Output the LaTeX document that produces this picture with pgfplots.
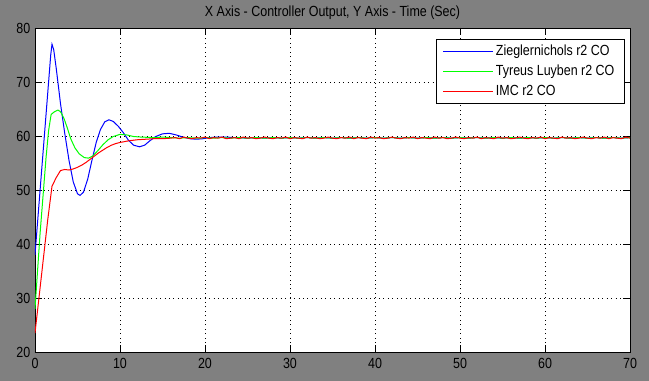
\documentclass[border=0pt]{standalone}
\usepackage{fontspec}
\setmainfont{Liberation Sans}[FakeStretch=0.85]
\usepackage{pgfplots}
\pgfplotsset{compat=1.18}
\usetikzlibrary{backgrounds,calc}
\definecolor{bg}{HTML}{808080}
\begin{document}
\begin{tikzpicture}
\begin{axis}[
  scale only axis, width=446.25pt, height=243pt,
  xmin=0, xmax=70, ymin=20, ymax=80,
  xtick={0,10,...,70}, ytick={20,30,...,80},
  axis background/.style={fill=white},
  axis line style={black, line width=0.6pt},
  tick align=inside, major tick length=5pt,
  tick style={black, line width=0.6pt},
  xtick pos=both, ytick pos=both,
  grid=major,
  major grid style={black, line width=0.6pt, dash pattern=on 0.75pt off 2.6pt},
  tick label style={font=\fontsize{11}{13}\selectfont},
  xticklabel style={yshift=-1pt},
  /pgf/number format/assume math mode=true,
  title={X Axis - Controller Output, Y Axis - Time (Sec)},
  title style={font=\fontsize{11}{13}\selectfont, yshift=-3.5pt},
  legend style={at={(0.99,0.966)}, anchor=north east, draw=black, fill=white,
    font=\fontsize{11}{13}\selectfont, row sep=1.4pt, inner xsep=5pt, inner ysep=2.5pt},
  legend cell align=left,
  legend image code/.code={\draw[#1] (0pt,0pt) -- (37pt,0pt);},
  every axis plot/.append style={line width=0.75pt},
  clip=true,
]
\addplot[color=blue, line width=0.75pt] coordinates {
(0,38) (0.3,44) (0.6,50) (1.0,58) (1.3,64) (1.6,70) (1.85,75) (2.0,77) (2.2,76) (2.5,72.5)
(3.0,66) (3.5,60.5) (4.0,55.5) (4.5,51.5) (5.0,49.3) (5.3,49) (5.7,49.6) (6.2,52) (6.7,55.5)
(7.2,58.8) (7.7,61.2) (8.2,62.6) (8.7,63.0) (9.2,62.7) (9.8,61.8) (10.4,60.6) (11.0,59.2)
(11.6,58.3) (12.3,58.0) (12.9,58.3) (13.5,59.1) (14.2,59.9) (15.0,60.4) (15.8,60.5) (16.6,60.2)
(17.4,59.8) (18.2,59.5) (19.0,59.4) (19.8,59.5) (20.5,59.7) (21.5,59.8) (22.5,59.8) (23.5,59.7)
(25,59.6) (26,59.7) (27,59.6) (28,59.7) (29,59.6) (30,59.7) (31,59.6) (32,59.7) (33,59.6)
(34,59.7) (35,59.6) (36,59.7) (37,59.6) (38,59.7) (39,59.6) (40,59.7) (41,59.6) (42,59.7)
(43,59.6) (44,59.7) (45,59.6) (46,59.7) (47,59.6) (48,59.7) (49,59.6) (50,59.7) (51,59.6)
(52,59.7) (53,59.6) (54,59.7) (55,59.6) (56,59.7) (57,59.6) (58,59.7) (59,59.6) (60,59.7)
(61,59.6) (62,59.7) (63,59.6) (64,59.7) (65,59.6) (66,59.7) (67,59.6) (68,59.7) (69,59.6) (70,59.7)
};
\addlegendentry{Zieglernichols r2 CO\hspace{12pt}}
\addplot[color=green, line width=0.75pt] coordinates {
(0,28) (0.3,35) (0.6,42) (1.0,50) (1.3,56) (1.6,61) (1.9,64) (2.3,64.5) (2.7,64.8) (3.0,64.5)
(3.4,63.3) (3.8,61.5) (4.2,59.5) (4.7,57.8) (5.2,56.7) (5.8,56.0) (6.3,55.9) (6.8,56.3) (7.4,57.3)
(8.0,58.4) (8.6,59.3) (9.2,59.9) (10.0,60.3) (10.8,60.2) (11.6,59.9) (12.5,59.8) (14,59.7)
(15,59.8) (16,59.7) (17,59.6) (18,59.7) (19,59.6) (20,59.7) (21,59.6) (22,59.7) (23,59.6)
(24,59.7) (25,59.6) (26,59.7) (27,59.6) (28,59.7) (29,59.6) (30,59.7) (31,59.6) (32,59.7)
(33,59.6) (34,59.7) (35,59.6) (36,59.7) (37,59.6) (38,59.7) (39,59.6) (40,59.7) (41,59.6)
(42,59.7) (43,59.6) (44,59.7) (45,59.6) (46,59.7) (47,59.6) (48,59.7) (49,59.6) (50,59.7)
(51,59.6) (52,59.7) (53,59.6) (54,59.7) (55,59.6) (56,59.7) (57,59.6) (58,59.7) (59,59.6)
(60,59.7) (61,59.6) (62,59.7) (63,59.6) (64,59.7) (65,59.6) (66,59.7) (67,59.6) (68,59.7) (69,59.6) (70,59.7)
};
\addlegendentry{Tyreus Luyben r2 CO}
\addplot[color=red, line width=0.75pt] coordinates {
(0,23.5) (0.5,30.5) (1.0,37.5) (1.5,44.5) (2.0,50.7) (2.5,52.3) (3.0,53.6) (3.5,53.8) (4.0,53.7)
(4.5,53.9) (5.0,54.2) (5.5,54.6) (6.0,55.1) (6.5,55.7) (7.0,56.3) (7.5,56.9) (8.0,57.4) (8.5,57.9)
(9.0,58.3) (9.5,58.6) (10,58.8) (11,59.1) (12,59.3) (13,59.4) (14,59.5) (15,59.5) (16,59.6)
(16.5,59.7) (17,59.5) (17.5,59.8) (18,59.6) (18.5,59.5) (19,59.7) (19.5,59.6) (20,59.8)
(20.5,59.5) (21,59.7) (21.5,59.6) (22,59.8) (22.5,59.5) (23,59.6) (23.5,59.7) (24,59.5)
(24.5,59.8) (25,59.6) (25.5,59.7) (26,59.5) (26.5,59.6) (27,59.8) (27.5,59.6) (28,59.5)
(28.5,59.7) (29,59.6) (29.5,59.8) (30,59.5) (30.5,59.7) (31,59.6) (31.5,59.5) (32,59.8)
(32.5,59.6) (33,59.7) (33.5,59.5) (34,59.6) (34.5,59.8) (35,59.6) (35.5,59.5) (36,59.7)
(36.5,59.6) (37,59.8) (37.5,59.5) (38,59.7) (38.5,59.6) (39,59.5) (39.5,59.8) (40,59.6)
(40.5,59.7) (41,59.5) (41.5,59.6) (42,59.8) (42.5,59.6) (43,59.5) (43.5,59.7) (44,59.6)
(44.5,59.8) (45,59.5) (45.5,59.7) (46,59.6) (46.5,59.5) (47,59.8) (47.5,59.6) (48,59.7)
(48.5,59.5) (49,59.6) (49.5,59.8) (50,59.6) (50.5,59.5) (51,59.7) (51.5,59.6) (52,59.8)
(52.5,59.5) (53,59.7) (53.5,59.6) (54,59.5) (54.5,59.8) (55,59.6) (55.5,59.7) (56,59.5)
(56.5,59.6) (57,59.8) (57.5,59.6) (58,59.5) (58.5,59.7) (59,59.6) (59.5,59.8) (60,59.5)
(60.5,59.7) (61,59.6) (61.5,59.5) (62,59.8) (62.5,59.6) (63,59.7) (63.5,59.5) (64,59.6)
(64.5,59.8) (65,59.6) (65.5,59.5) (66,59.7) (66.5,59.6) (67,59.8) (67.5,59.5) (68,59.7)
(68.5,59.6) (69,59.5) (69.5,59.8) (70,59.6)
};
\addlegendentry{IMC r2 CO}
\coordinate (bl) at (rel axis cs:0,0);
\coordinate (tr) at (rel axis cs:1,1);
\end{axis}
\begin{scope}[on background layer]
\fill[bg] ($(bl)+(-26.25pt,-21.75pt)$) rectangle ($(tr)+(14.25pt,21pt)$);
\end{scope}
\useasboundingbox ($(bl)+(-26.25pt,-21.75pt)$) rectangle ($(tr)+(14.25pt,21pt)$);
\end{tikzpicture}
\end{document}
